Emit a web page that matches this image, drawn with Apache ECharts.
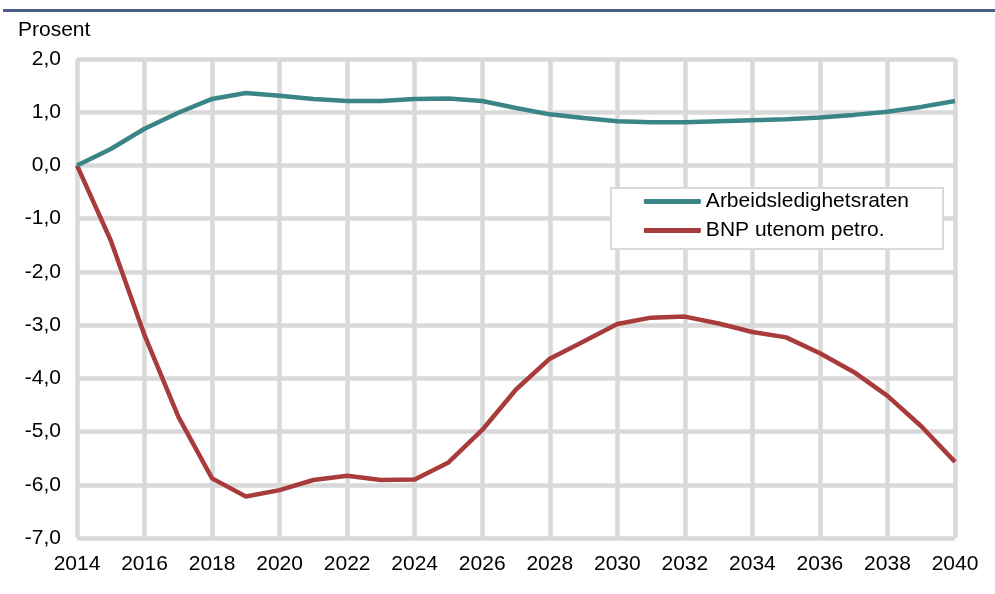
<!DOCTYPE html>
<html>
<head>
<meta charset="utf-8">
<script src="https://cdn.jsdelivr.net/npm/echarts@6/dist/echarts.min.js"></script>
<style>
  html, body { margin: 0; padding: 0; background: #fff; }
  #chart { width: 995px; height: 594px; }
</style>
</head>
<body>
<div id="chart"></div>
<script>
// data
const years = [2014, 2015, 2016, 2017, 2018, 2019, 2020, 2021, 2022, 2023, 2024, 2025, 2026,
  2027, 2028, 2029, 2030, 2031, 2032, 2033, 2034, 2035, 2036, 2037, 2038, 2039, 2040];
const arbeidsledighet = [0.0, 0.31, 0.69, 0.99, 1.25, 1.36, 1.31, 1.25, 1.21, 1.21, 1.25, 1.26, 1.21,
  1.08, 0.96, 0.89, 0.83, 0.81, 0.81, 0.83, 0.85, 0.87, 0.9, 0.95, 1.01, 1.1, 1.21];
const bnp = [0.0, -1.41, -3.19, -4.72, -5.88, -6.22, -6.1, -5.91, -5.83, -5.91, -5.9, -5.58, -4.97,
  -4.21, -3.63, -3.31, -2.98, -2.86, -2.84, -2.97, -3.13, -3.23, -3.53, -3.88, -4.33, -4.9, -5.57];
const seriesNames = ['Arbeidsledighetsraten', 'BNP utenom petro.'];

const chart = echarts.init(document.getElementById('chart'));

const pair = (arr) => years.map((y, i) => [y, arr[i]]);
const gridGray = '#d9d9d9';
const font = 'Liberation Sans, Arial, sans-serif';

chart.setOption({
  animation: false,
  graphic: [
    {
      type: 'rect',
      shape: { x: 3, y: 9, width: 992, height: 3 },
      style: { fill: '#495d87' }
    },
    {
      type: 'text',
      left: 18,
      top: 20,
      style: { text: 'Prosent', fill: '#000', font: '21px ' + font }
    }
  ],
  legend: {
    right: 52,
    top: 188,
    orient: 'vertical',
    backgroundColor: '#fff',
    borderColor: gridGray,
    borderWidth: 2,
    borderRadius: 0,
    padding: [3, 34, 8, 33],
    itemGap: 8,
    itemWidth: 57,
    itemHeight: 5,
    icon: 'roundRect',
    textStyle: { fontSize: 21, color: '#000', fontFamily: font },
    data: seriesNames
  },
  grid: { left: 77, right: 40, top: 59, bottom: 56 },
  xAxis: {
    type: 'value',
    min: 2014,
    max: 2040,
    interval: 2,
    axisLine: { show: false },
    axisTick: { show: false },
    axisLabel: {
      color: '#000',
      fontSize: 21,
      fontFamily: font,
      margin: 16,
      formatter: (v) => String(v)
    },
    splitLine: { show: true, lineStyle: { color: gridGray, width: 4.5 } }
  },
  yAxis: {
    type: 'value',
    min: -7,
    max: 2,
    interval: 1,
    axisLine: { show: false },
    axisTick: { show: false },
    axisLabel: {
      color: '#000',
      fontSize: 21,
      fontFamily: font,
      margin: 16,
      formatter: (v) => v.toFixed(1).replace('.', ',')
    },
    splitLine: { show: true, lineStyle: { color: gridGray, width: 4.5 } }
  },
  series: [
    {
      name: seriesNames[0],
      type: 'line',
      data: pair(arbeidsledighet),
      symbol: 'none',
      color: '#3b8587',
      lineStyle: { width: 4.5, color: '#3b8587' },
      z: 3
    },
    {
      name: seriesNames[1],
      type: 'line',
      data: pair(bnp),
      symbol: 'none',
      color: '#a83c3c',
      lineStyle: { width: 4.5, color: '#a83c3c' },
      z: 2
    }
  ]
});
</script>
</body>
</html>
